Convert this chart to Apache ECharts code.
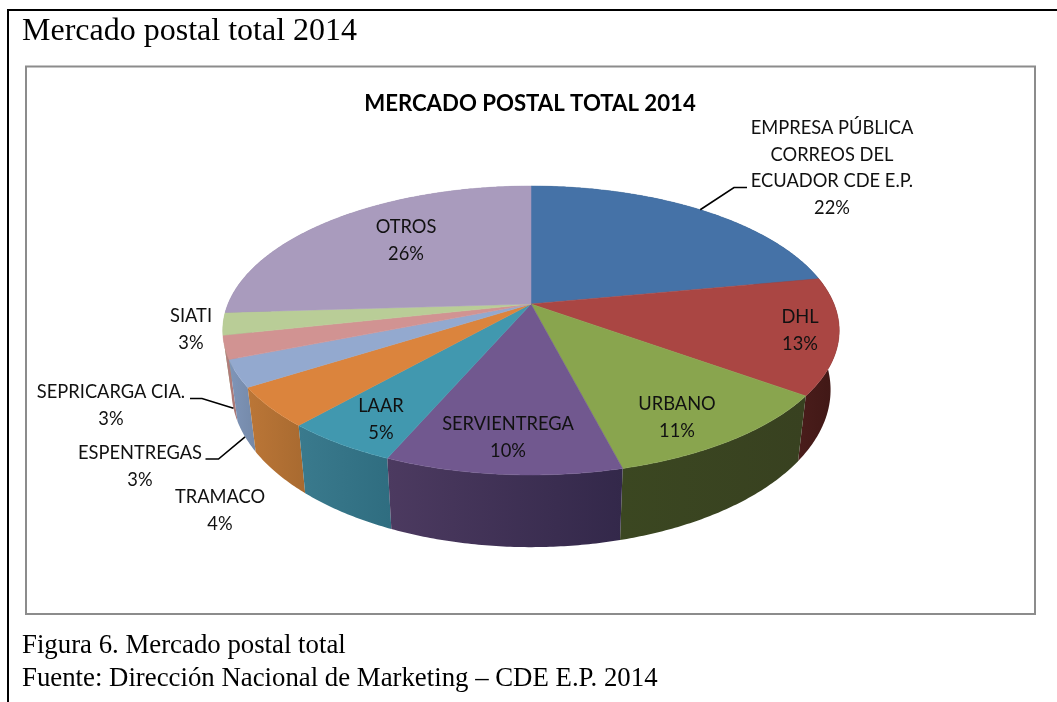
<!DOCTYPE html>
<html>
<head>
<meta charset="utf-8">
<style>
  html, body { margin: 0; padding: 0; background: #fff; }
  #main { width: 1057px; height: 702px; }
</style>
<script src="https://cdn.jsdelivr.net/npm/echarts@6/dist/echarts.min.js"></script>
</head>
<body>
<div id="main"></div>
<script>
// data (labels are these shares rounded)
const categories = ['EMPRESA PÚBLICA\nCORREOS DEL\nECUADOR CDE E.P.', 'DHL', 'URBANO', 'SERVIENTREGA', 'LAAR', 'TRAMACO', 'ESPENTREGAS', 'SEPRICARGA CIA.', 'SIATI', 'OTROS'];
const shares = [22, 13, 11, 10.45, 5.05, 4.45, 3, 2.6, 2.5, 25.95];

// colours
const topColors = ['#4572A7', '#AA4643', '#89A54E', '#71588F', '#4198AF', '#DB843D', '#93A9CF', '#D19392', '#B9CD97', '#A99BBD'];
const wallLeft = ['#2b4668', '#4a1d1b', '#3b4721', '#4c3a60', '#3a7a8d', '#bb7637', '#7f95b8', '#b88280', '#a0b283', '#93869f'];
const wallRight = ['#2b4668', '#3f1715', '#384120', '#33284a', '#2f6d80', '#a86a30', '#7489a9', '#a87674', '#94a579', '#87799a'];

// layout of the label centres [x, y of first line]
const labelPos = [[832, 128], [800, 317.5], [677, 404.5], [508, 424], [381, 406.5], [220, 497], [140, 453], [111, 392], [191, 316], [406, 227]];
// leader lines: which slice, end beside the label, bend, and which rim it lands on
const leaders = [
  { slice: 0, from: [747, 187.5], bend: [734, 187.5], rim: 'top' },
  { slice: 6, from: [205.5, 459], bend: [218.5, 459], rim: 'bottom' },
  { slice: 7, from: [190, 398.5], bend: [202, 398.5], rim: 'bottom' }
];

// perspective projection of the pie disc
const cx = 531, tilt = 0.1834;
const topDisc = { rx: 303, ry: 139.6, cy: 304 };
const baseDisc = { rx: 294.5, ry: 152, cy: 361 };

function project(disc, angle) {
  const X = Math.sin(angle), Z = -Math.cos(angle);
  const d = 1 - tilt * Z;
  return [cx + disc.rx * X / d, disc.cy + disc.ry * Z / d];
}

function arc(disc, a0, a1) {
  const pts = [];
  const n = Math.max(4, Math.ceil(Math.abs(a1 - a0) / 0.01));
  for (let i = 0; i <= n; i++) pts.push(project(disc, a0 + (a1 - a0) * i / n));
  return pts;
}

const total = shares.reduce((a, b) => a + b, 0);
const starts = [];
let run = 0;
shares.forEach(function (v) { starts.push(run / total * Math.PI * 2); run += v; });

function sliceRange(i, val) {
  return [starts[i], starts[i] + val / total * Math.PI * 2];
}

function renderWall(params, api) {
  const i = params.dataIndex;
  const r = sliceRange(i, api.value(0));
  const upper = arc(topDisc, r[0], r[1]);
  const lower = arc(baseDisc, r[1], r[0]);
  return {
    type: 'polygon',
    // nearer walls go over farther ones
    z2: Math.round(-Math.cos((r[0] + r[1]) / 2) * 100),
    shape: { points: upper.concat(lower) },
    style: {
      fill: new echarts.graphic.LinearGradient(0, 0, 1, 0, [
        { offset: 0, color: wallLeft[i] },
        { offset: 1, color: wallRight[i] }
      ])
    }
  };
}

function renderTop(params, api) {
  const i = params.dataIndex;
  const r = sliceRange(i, api.value(0));
  return {
    type: 'polygon',
    shape: { points: [[cx, topDisc.cy]].concat(arc(topDisc, r[0], r[1])) },
    style: { fill: topColors[i], stroke: topColors[i], lineWidth: 0.5 }
  };
}

function renderLabel(params, api) {
  const i = params.dataIndex;
  const pct = Math.round(api.value(0) / total * 100) + '%';
  const lines = categories[i].split('\n').concat(pct);
  return {
    type: 'group',
    children: lines.map(function (t, k) {
      return {
        type: 'text',
        style: {
          text: t,
          x: labelPos[i][0],
          y: labelPos[i][1] + k * 26.8,
          align: 'center',
          verticalAlign: 'middle',
          fill: '#111',
          font: '18.3px Lato'
        }
      };
    })
  };
}

function renderLeader(params, api) {
  const l = leaders[params.dataIndex];
  const r = sliceRange(l.slice, shares[l.slice]);
  const end = project(l.rim === 'top' ? topDisc : baseDisc, (r[0] + r[1]) / 2);
  return {
    type: 'polyline',
    shape: { points: [l.from, l.bend, end] },
    style: { stroke: '#000', lineWidth: 1.6, fill: null }
  };
}

const chart = echarts.init(document.getElementById('main'), null, { renderer: 'canvas' });

const serif = 'Liberation Serif';

chart.setOption({
  backgroundColor: '#ffffff',
  animation: false,
  tooltip: { show: false },
  title: {
    text: 'MERCADO POSTAL TOTAL 2014',
    left: 525,
    top: 88,
    textAlign: 'center',
    textStyle: { fontFamily: 'Lato', fontWeight: 'bold', fontSize: 22.2, color: '#000' }
  },
  graphic: [
    { type: 'line', shape: { x1: 7, y1: 10, x2: 1057, y2: 10 }, style: { stroke: '#000', lineWidth: 2 }, z: 1 },
    { type: 'line', shape: { x1: 8, y1: 9, x2: 8, y2: 702 }, style: { stroke: '#000', lineWidth: 2 }, z: 1 },
    { type: 'rect', shape: { x: 26, y: 66.5, width: 1009, height: 547.5 }, style: { fill: '#fff', stroke: '#8c8c8c', lineWidth: 2 }, z: 0 },
    { type: 'text', style: { text: 'Mercado postal total 2014', x: 22, y: 32, verticalAlign: 'middle', fill: '#000', font: '32px "' + serif + '"' }, z: 1 },
    { type: 'text', style: { text: 'Figura 6. Mercado postal total', x: 22, y: 646, verticalAlign: 'middle', fill: '#000', font: '26.8px "' + serif + '"' }, z: 1 },
    { type: 'text', style: { text: 'Fuente: Dirección Nacional de Marketing – CDE E.P. 2014', x: 22, y: 679, verticalAlign: 'middle', fill: '#000', font: '26.8px "' + serif + '"' }, z: 1 }
  ],
  series: [
    { type: 'custom', coordinateSystem: 'none', silent: true, z: 2, data: shares.map(function (v) { return [v]; }), renderItem: renderWall },
    { type: 'custom', coordinateSystem: 'none', silent: true, z: 3, data: shares.map(function (v) { return [v]; }), renderItem: renderTop },
    { type: 'custom', coordinateSystem: 'none', silent: true, z: 4, data: leaders.map(function (l) { return [shares[l.slice]]; }), renderItem: renderLeader },
    { type: 'custom', coordinateSystem: 'none', silent: true, z: 5, data: shares.map(function (v) { return [v]; }), renderItem: renderLabel }
  ]
});
</script>
</body>
</html>
